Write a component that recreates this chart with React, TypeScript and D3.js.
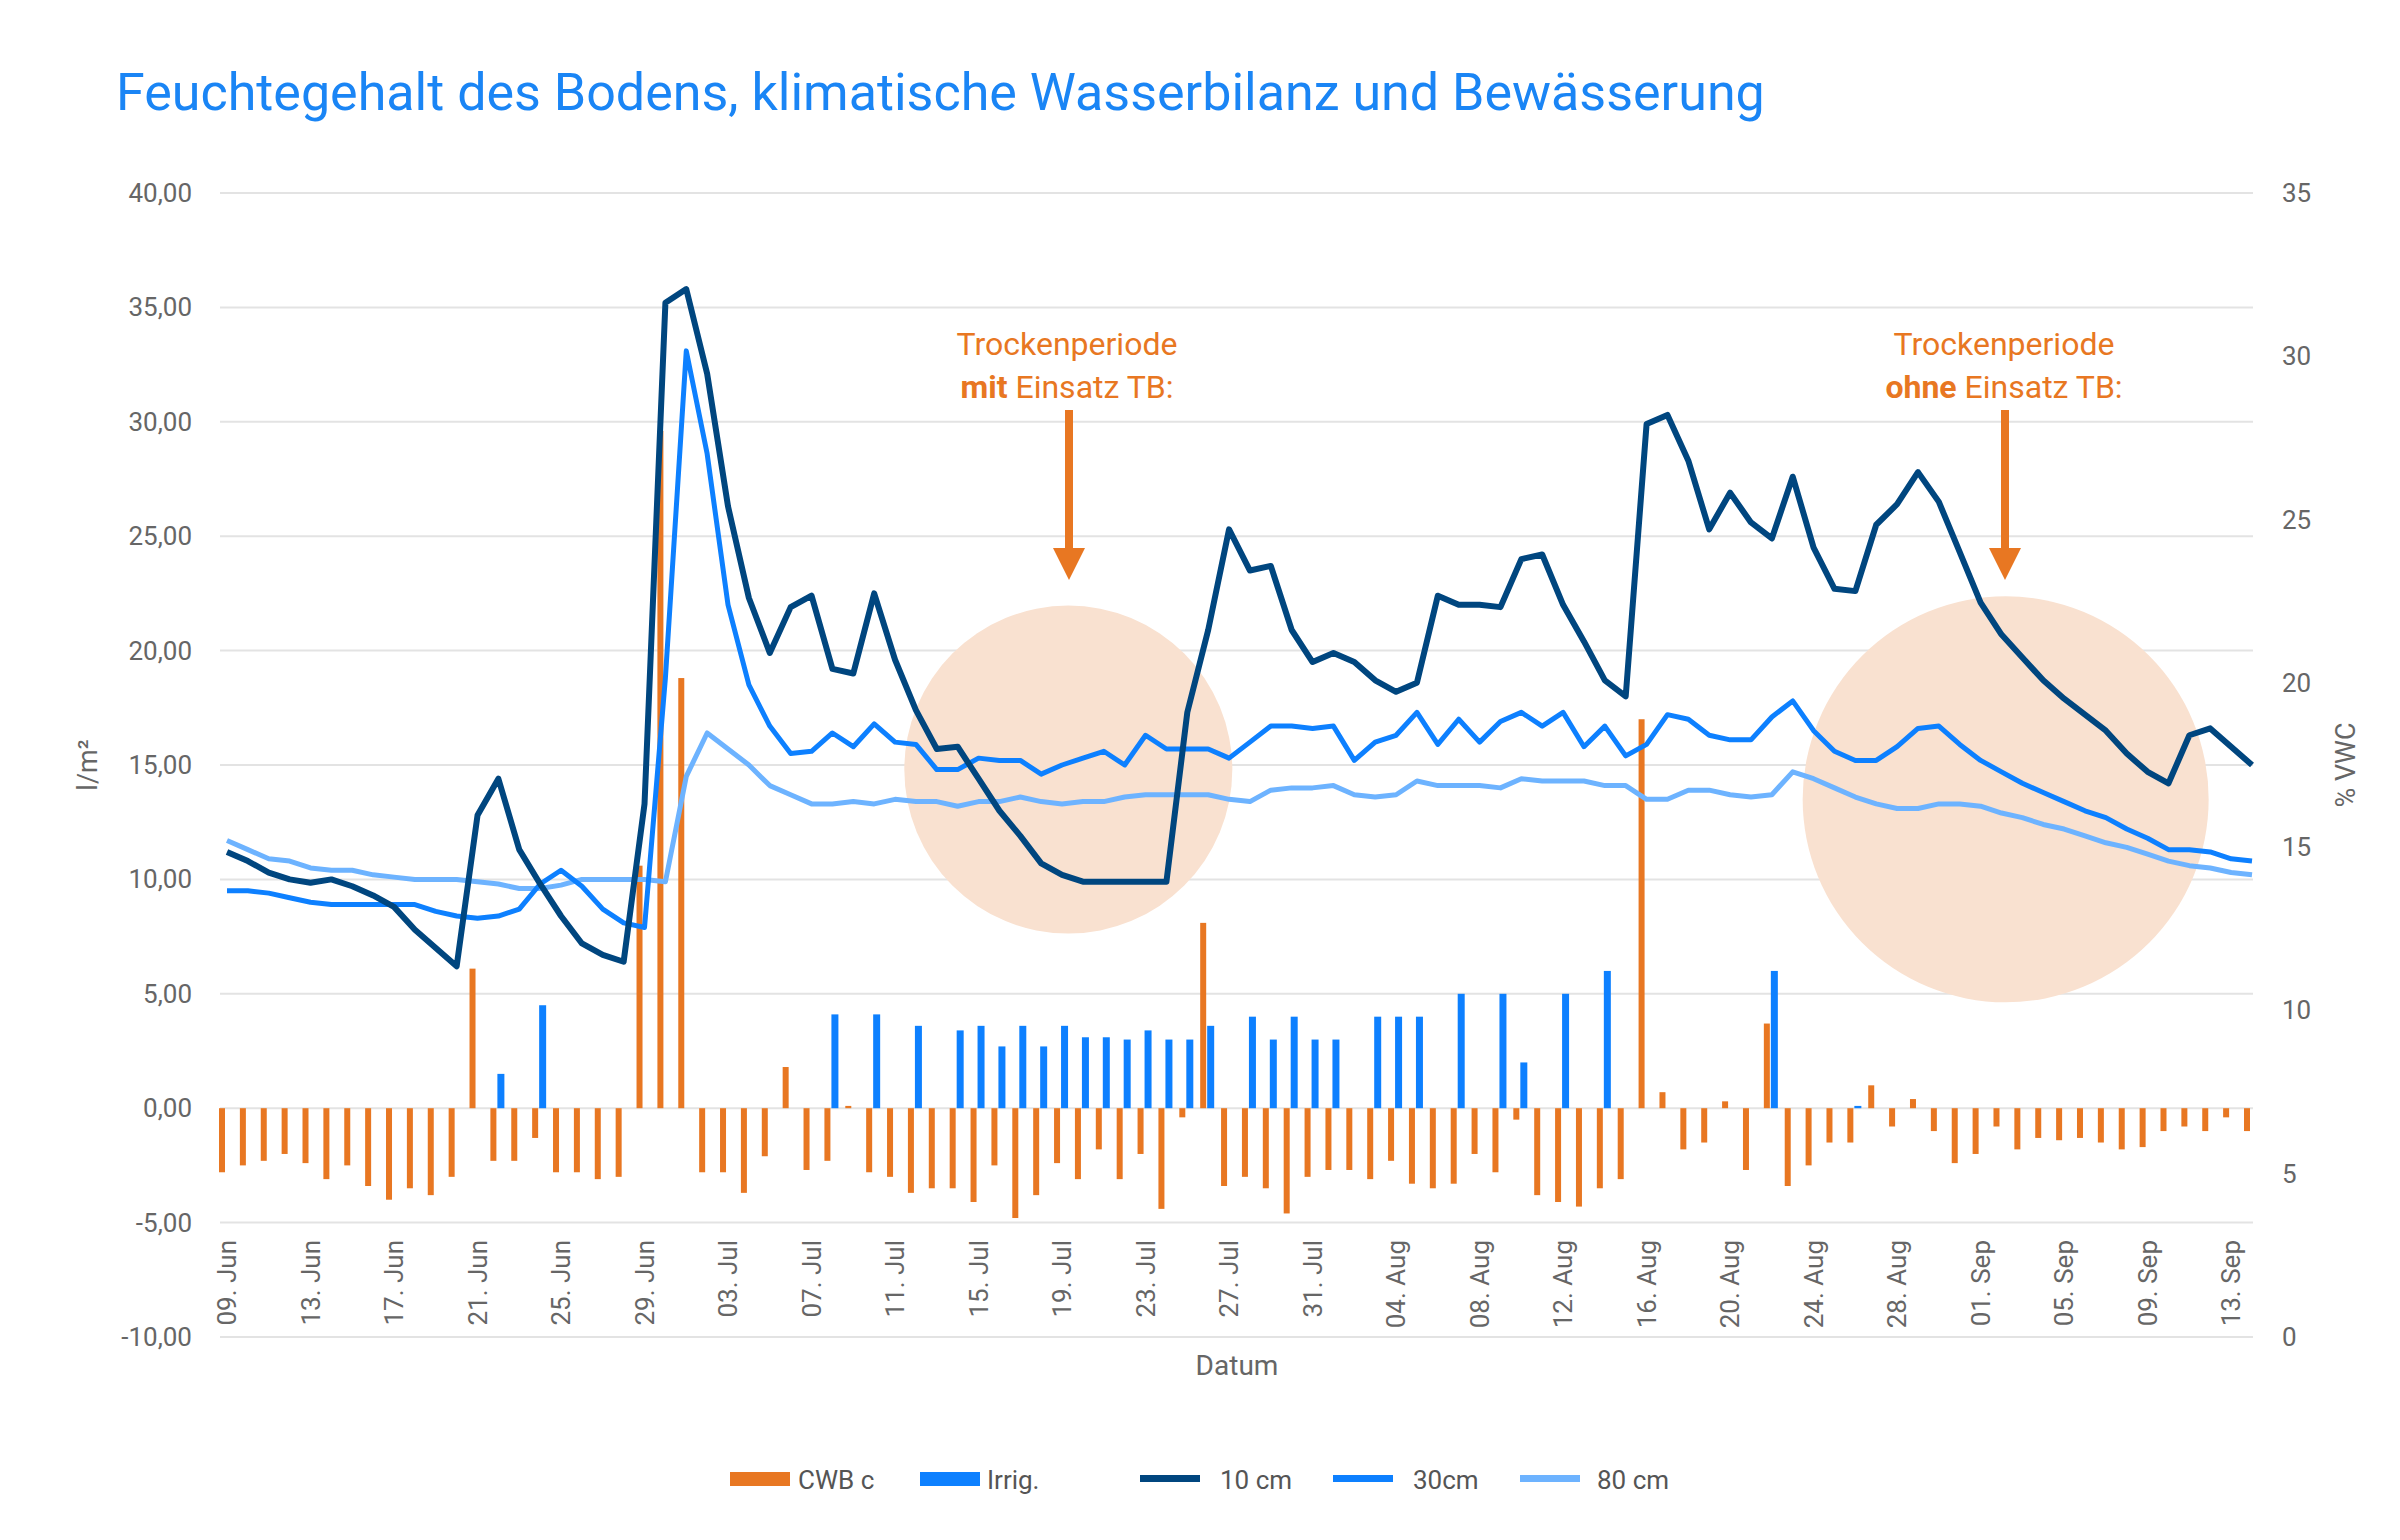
import React from "react";
import * as d3 from "d3";

const startDate = new Date(2020, 5, 9);
const nDays = 98;

const cm10 = [11.2,10.8,10.3,10.0,9.85,10.0,9.7,9.3,8.8,7.8,7.0,6.2,12.8,14.4,11.3,9.8,8.4,7.2,6.7,6.4,13.3,35.2,
  35.8,32.1,26.3,22.3,19.9,21.9,22.4,19.2,19.0,22.5,19.6,17.4,15.7,15.8,14.4,13.0,11.9,10.7,10.2,9.9,9.9,9.9,9.9,9.9,17.3,20.9,25.3,23.5,23.7,20.9,19.5,
  19.9,19.5,18.7,18.2,18.6,22.4,22.0,22.0,21.9,24.0,24.2,22.0,20.4,18.7,18.0,29.9,30.3,28.3,25.3,26.9,25.6,24.9,27.6,24.5,22.7,22.6,25.5,26.4,27.8,26.5,24.3,
  22.1,20.7,19.7,18.7,17.9,17.2,16.5,15.5,14.7,14.2,16.3,16.6,15.8,15.0];
const cm30 = [9.5,9.5,9.4,9.2,9.0,8.9,8.9,8.9,8.9,8.9,8.6,8.4,8.3,8.4,8.7,9.8,10.4,9.7,8.7,8.1,7.9,18.8,
  33.1,28.6,22.0,18.5,16.7,15.5,15.6,16.4,15.8,16.8,16.0,15.9,14.8,14.8,15.3,15.2,15.2,14.6,15.0,15.3,15.6,15.0,16.3,15.7,15.7,15.7,15.3,16.0,16.7,16.7,16.6,
  16.7,15.2,16.0,16.3,17.3,15.9,17.0,16.0,16.9,17.3,16.7,17.3,15.8,16.7,15.4,15.9,17.2,17.0,16.3,16.1,16.1,17.1,17.8,16.5,15.6,15.2,15.2,15.8,16.6,16.7,15.9,
  15.2,14.7,14.2,13.8,13.4,13.0,12.7,12.2,11.8,11.3,11.3,11.2,10.9,10.8];
const cm80 = [11.7,11.3,10.9,10.8,10.5,10.4,10.4,10.2,10.1,10.0,10.0,10.0,9.9,9.8,9.6,9.6,9.75,10.0,10.0,10.0,10.0,9.9,
  14.5,16.4,15.7,15.0,14.1,13.7,13.3,13.3,13.4,13.3,13.5,13.4,13.4,13.2,13.4,13.4,13.6,13.4,13.3,13.4,13.4,13.6,13.7,13.7,13.7,13.7,13.5,13.4,13.9,14.0,14.0,
  14.1,13.7,13.6,13.7,14.3,14.1,14.1,14.1,14.0,14.4,14.3,14.3,14.3,14.1,14.1,13.5,13.5,13.9,13.9,13.7,13.6,13.7,14.7,14.4,14.0,13.6,13.3,13.1,13.1,13.3,13.3,
  13.2,12.9,12.7,12.4,12.2,11.9,11.6,11.4,11.1,10.8,10.6,10.5,10.3,10.2];
const cwb = [-2.8,-2.5,-2.3,-2.0,-2.4,-3.1,-2.5,-3.4,-4.0,-3.5,-3.8,-3.0,6.1,-2.3,-2.3,-1.3,-2.8,-2.8,-3.1,-3.0,10.6,29.6,
  18.8,-2.8,-2.8,-3.7,-2.1,1.8,-2.7,-2.3,0.1,-2.8,-3.0,-3.7,-3.5,-3.5,-4.1,-2.5,-4.8,-3.8,-2.4,-3.1,-1.8,-3.1,-2.0,-4.4,-0.4,8.1,-3.4,-3.0,-3.5,-4.6,-3.0,
  -2.7,-2.7,-3.1,-2.3,-3.3,-3.5,-3.3,-2.0,-2.8,-0.5,-3.8,-4.1,-4.3,-3.5,-3.1,17.0,0.7,-1.8,-1.5,0.3,-2.7,3.7,-3.4,-2.5,-1.5,-1.5,1.0,-0.8,0.4,-1.0,-2.4,
  -2.0,-0.8,-1.8,-1.3,-1.4,-1.3,-1.5,-1.8,-1.7,-1.0,-0.8,-1.0,-0.4,-1.0];
const irrDays = [13,15,29,31,33,35,36,37,38,39,40,41,42,43,44,45,46,47,49,50,51,52,53,55,56,57,59,61,62,64,66,74,78];
const irrVals = [1.5,4.5,4.1,4.1,3.6,3.4,3.6,2.7,3.6,2.7,3.6,3.1,3.1,3.0,3.4,3.0,3.0,3.6,4.0,3.0,4.0,3.0,3.0,4.0,4.0,4.0,5.0,5.0,2.0,5.0,6.0,6.0,0.1];
const leftTicks = [-10,-5,0,5,10,15,20,25,30,35,40];
const rightTicks = [0,5,10,15,20,25,30,35];

const C_DARK = "#00467f", C_MID = "#0d80ff", C_LIGHT = "#6db3ff", C_OR = "#e87722";
const FONT = "Roboto, 'Noto Sans', sans-serif";

export default function App() {
  const L = 220, R = 2253, T = 193, B = 1337;
  const x = d3.scaleLinear().domain([0, nDays - 1]).range([227, 2252]);
  const y = d3.scaleLinear().domain([-10, 40]).range([B, T]);
  const yR = d3.scaleLinear().domain([0, 35]).range([B, T]);
  const fmt = (v: number) => v.toFixed(2).replace(".", ",");
  const line = (arr: number[]) => d3.line<number>().x((_, i) => x(i)).y(v => y(v))(arr) || "";
  const dateLabel = (i: number) => {
    const d = d3.timeDay.offset(startDate, i);
    const m = ["Jan","Feb","Mär","Apr","Mai","Jun","Jul","Aug","Sep","Okt","Nov","Dez"][d.getMonth()];
    return `${String(d.getDate()).padStart(2, "0")}. ${m}`;
  };
  const xt = d3.range(0, nDays, 4);
  const circ = (i: number, v: number, r: number) => <circle cx={x(i)} cy={y(v)} r={r} fill="#f9e1d0" />;
  const arrow = (cx: number) => (
    <g>
      <rect x={cx - 4} y={410} width={8} height={140} fill={C_OR} />
      <path d={`M${cx - 16},548 L${cx + 16},548 L${cx},580 Z`} fill={C_OR} />
    </g>
  );
  return (
    <svg width={2400} height={1540} style={{ position: "absolute", left: 0, top: 0, background: "#fff" }} fontFamily={FONT}>
      <text x={116} y={110} fontSize={52} fill="#1a85f5">Feuchtegehalt des Bodens, klimatische Wasserbilanz und Bewässerung</text>
      {leftTicks.map(t => (
        <g key={t}>
          <line x1={L} x2={R} y1={y(t)} y2={y(t)} stroke="#e3e3e3" strokeWidth={2} />
          <text x={192} y={y(t) + 9} textAnchor="end" fontSize={26} fill="#666">{fmt(t)}</text>
        </g>
      ))}
      {rightTicks.map(t => (
        <text key={t} x={2282} y={yR(t) + 9} fontSize={26} fill="#666">{t}</text>
      ))}
      <text transform={`translate(97,${y(15)}) rotate(-90)`} textAnchor="middle" fontSize={27} fill="#666">l/m²</text>
      <text transform={`translate(2355,${y(15)}) rotate(-90)`} textAnchor="middle" fontSize={27} fill="#666">% VWC</text>
      {circ(40.3, 14.8, 164)}
      {circ(85.2, 13.5, 203)}
      {cwb.map((v, i) => (
        <rect key={i} x={x(i) - 8} width={6} y={y(Math.max(v, 0))} height={Math.abs(y(v) - y(0))} fill={C_OR} />
      ))}
      {irrDays.map((d, k) => (
        <rect key={d} x={x(d) - 1} width={7} y={y(irrVals[k])} height={y(0) - y(irrVals[k])} fill={C_MID} />
      ))}
      <path d={line(cm80)} fill="none" stroke={C_LIGHT} strokeWidth={5} strokeLinejoin="round" />
      <path d={line(cm30)} fill="none" stroke={C_MID} strokeWidth={5} strokeLinejoin="round" />
      <path d={line(cm10)} fill="none" stroke={C_DARK} strokeWidth={6} strokeLinejoin="round" />
      {xt.map(i => (
        <text key={i} transform={`translate(${x(i) + 9},1240) rotate(-90)`} textAnchor="end" fontSize={26} fill="#666">{dateLabel(i)}</text>
      ))}
      <text x={1237} y={1375} textAnchor="middle" fontSize={28} fill="#666">Datum</text>
      <g fontSize={32} fill={C_OR} textAnchor="middle">
        <text x={1067} y={355}>Trockenperiode</text>
        <text x={1067} y={398}><tspan fontWeight="bold">mit</tspan> Einsatz TB:</text>
        <text x={2004} y={355}>Trockenperiode</text>
        <text x={2004} y={398}><tspan fontWeight="bold">ohne</tspan> Einsatz TB:</text>
      </g>
      {arrow(1069)}
      {arrow(2005)}
      <g fontSize={26} fill="#555">
        <rect x={730} y={1472} width={60} height={14} fill={C_OR} />
        <text x={798} y={1489}>CWB c</text>
        <rect x={920} y={1472} width={60} height={14} fill={C_MID} />
        <text x={987} y={1489}>Irrig.</text>
        <rect x={1140} y={1475} width={60} height={7} fill={C_DARK} />
        <text x={1220} y={1489}>10 cm</text>
        <rect x={1333} y={1475} width={60} height={7} fill={C_MID} />
        <text x={1413} y={1489}>30cm</text>
        <rect x={1520} y={1475} width={60} height={7} fill={C_LIGHT} />
        <text x={1597} y={1489}>80 cm</text>
      </g>
    </svg>
  );
}
